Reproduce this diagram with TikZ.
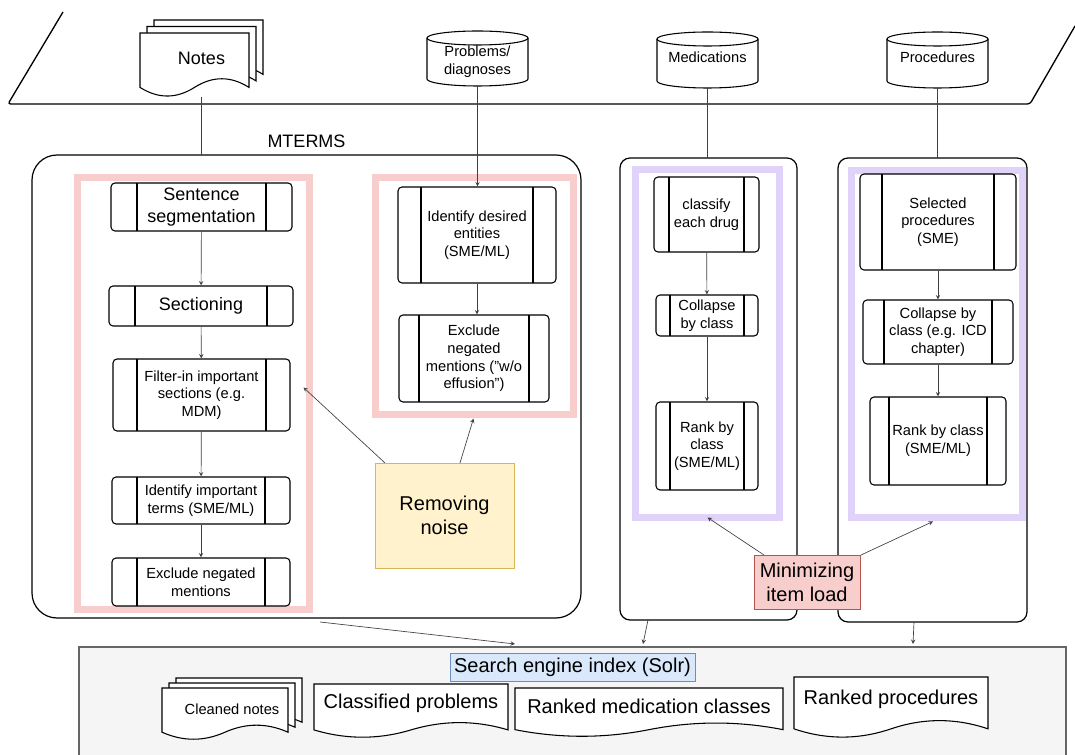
\documentclass[tikz,border=0pt]{standalone}
\usepackage{fontspec}
\setmainfont{Liberation Sans}
\usepackage{xcolor}
\usepackage{tikz}
\usetikzlibrary{shapes.geometric, arrows, positioning, calc}

\definecolor{pinkband}{HTML}{F8CECC}
\definecolor{lilacband}{HTML}{E1D2F9}
\definecolor{noisefill}{HTML}{FFF2CC}
\definecolor{noiseline}{HTML}{D6B656}
\definecolor{loadfill}{HTML}{F8CECC}
\definecolor{loadline}{HTML}{B85450}
\definecolor{indexfill}{HTML}{F5F5F5}
\definecolor{indexline}{HTML}{666666}
\definecolor{solrfill}{HTML}{DAE8FC}
\definecolor{solrline}{HTML}{6C8EBF}

% document outline: left, top, width, height (px)
\newcommand{\docpath}[4]{%
  \filldraw[docline] (#1,#2) -- ({#1+#3},#2) -- ({#1+#3},{#2+0.85*#4})
    .. controls ({#1+0.833*#3},{#2+0.67*#4}) and ({#1+0.667*#3},{#2+0.67*#4}) .. ({#1+0.5*#3},{#2+0.85*#4})
    .. controls ({#1+0.333*#3},{#2+1.03*#4}) and ({#1+0.167*#3},{#2+1.03*#4}) .. (#1,{#2+0.85*#4}) -- cycle;}
% database outline round a node: node, half width
\newcommand{\dbdraw}[2]{%
  \draw[dbline] (#1.north west) -- ([yshift=5.25pt]#1.south west)
    arc[start angle=180, end angle=0, x radius=#2, y radius=7] -- (#1.north east);
  \draw[dbline] (#1.north) ellipse[x radius=#2, y radius=7];}
% lift a label inside its node
\newcommand{\lift}[1]{\raisebox{4.5pt}[\height][\depth]{#1}}

\begin{document}
\begin{tikzpicture}[
        x=0.75pt, y=-0.75pt,
        >=stealth,
        sz/.style 2 args={minimum width=#1*0.75pt, minimum height=#2*0.75pt},
        txs/.style={font=\fontsize{11}{13.2}\selectfont},
        txm/.style={font=\fontsize{13.5}{16}\selectfont},
        txl/.style={font=\fontsize{15}{18}\selectfont},
        proc/.style={rectangle, draw, rounded corners=3pt, line width=0.8pt, inner sep=0pt, align=center, fill=white,
            path picture={
                \draw[line width=0.8pt] ([xshift=#1*0.75pt]path picture bounding box.north west) -- ([xshift=#1*0.75pt]path picture bounding box.south west);
                \draw[line width=0.8pt] ([xshift=-#1*0.75pt]path picture bounding box.north east) -- ([xshift=-#1*0.75pt]path picture bounding box.south east);
            }},
        proc/.default=25,
        panel/.style={rectangle, draw, line width=0.9pt, inner sep=0pt, outer sep=0pt},
        band/.style={rectangle, draw=#1, line width=5.25pt, inner sep=0pt, outer sep=0pt},
        db/.style={inner sep=0pt, outer sep=0pt, align=center, txs},
        dbline/.style={line width=0.8pt},
        docline/.style={draw, fill=white, line width=0.8pt},
        doctext/.style={inner sep=0pt, outer sep=0pt, align=center},
        note/.style={rectangle, inner sep=0pt, outer sep=0pt, align=center, txl},
        arrow/.style={->, line width=0.5pt, draw=black!75},
        link/.style={line width=0.5pt, draw=black!75}
    ]
    \useasboundingbox (0,0) rectangle (1075,755);

    % data source
    \draw[line width=1pt, rounded corners=2pt] (63,12) -- (8,104) -- (1030,104) -- (1075,26);

    \docpath{154}{20}{109}{64}
    \docpath{147}{26.5}{109}{64}
    \docpath{140}{33}{109}{64}
    \node[doctext, txm, sz={123}{77}] (notes) at (201.5,58.5) {Notes};

    \node[db, sz={101}{48}] (probs) at (477.5,62) {Problems/\\diagnoses};
    \dbdraw{probs}{50.5}
    \node[db, sz={101}{49}] (meds) at (707.5,63.5) {\lift{Medications}};
    \dbdraw{meds}{50.5}
    \node[db, sz={101}{49}] (procs) at (937.5,63.5) {\lift{Procedures}};
    \dbdraw{procs}{50.5}

    % bands
    \node[band=pinkband, sz={232}{432}] (lband) at (193.5,393.5) {};
    \node[band=pinkband, sz={198}{237}] (rband) at (474.5,296) {};
    \node[band=lilacband, sz={144}{348}] (medband) at (707.5,343.5) {};
    \node[band=lilacband, sz={171}{347}] (procband) at (937,344) {};

    % panels
    \node[panel, rounded corners=18.75pt, sz={549}{463}] (mterms) at (306.5,386.5) {};
    \node[txm, above=2pt of mterms] (mtlabel) {MTERMS};
    \node[panel, rounded corners=7.5pt, sz={177}{462}] (medpanel) at (708.5,389) {};
    \node[panel, rounded corners=7.5pt, sz={189}{464}] (procpanel) at (932.5,390) {};

    % MTERMS steps
    \node[proc=26, sz={181}{48}, txm] (sentseg) at (201.5,207) {Sentence\\segmentation};
    \node[proc=26, sz={184}{40}, txm] (section) at (201,306) {Sectioning};
    \node[proc=24, sz={177}{72}, txs] (filtin) at (201.5,395) {Filter-in important\\sections (e.g.\\MDM)};
    \node[proc=25, sz={178}{47}, txs] (idterms) at (201,500.5) {Identify important\\terms (SME/ML)};
    \node[proc=25, sz={178}{48}, txs] (exclneg) at (201,582) {Exclude negated\\mentions};
    \node[proc=23, sz={158}{96}, txs] (idwant) at (477,235) {Identify desired\\entities\\(SME/ML)};
    \node[proc=20, sz={150}{87}, txs] (exclwo) at (474,358.5) {Exclude\\negated\\mentions ("w/o\\effusion")};

    % medication steps
    \node[proc=15, sz={105}{75}, txs] (classify) at (706.5,214.5) {classify\\each drug};
    \node[proc=14, sz={102}{41}, txs] (collmed) at (707,315.5) {Collapse\\by class};
    \node[proc=14, sz={102}{88}, txs] (rankmed) at (707,446) {Rank by\\class\\(SME/ML)};

    % procedure steps
    \node[proc=22, sz={156}{96}, txs] (selproc) at (938,222) {Selected\\procedures\\(SME)};
    \node[proc=21, sz={150}{64}, txs] (collproc) at (938,332) {Collapse by\\class (e.g. ICD\\chapter)};
    \node[proc=19, sz={136}{88}, txs] (rankproc) at (938,441) {Rank by class\\(SME/ML)};

    % notes on aims
    \node[note, fill=noisefill, draw=noiseline, sz={139}{105}] (noise) at (444.5,515.5) {Removing\\noise};
    \node[note, fill=loadfill, draw=loadline, sz={106}{54}] (minim) at (807,582) {Minimizing\\item load};

    % index
    \node[fill=indexfill, inner sep=0pt, outer sep=0pt, sz={987}{108}] (index) at (572.5,701) {};
    \draw[indexline, line width=0.8pt] (index.south west) -- (index.north west) -- (index.north east) -- (index.south east);
    \node[fill=solrfill, draw=solrline, inner sep=0pt, sz={245}{28}, txl] (solr) at (572.5,667) {Search engine index (Solr)};

    \docpath{176}{678}{126}{52}
    \docpath{169}{683}{126}{52}
    \docpath{162}{688}{126}{52}
    \node[doctext, txs] (cleaned) at (232,709) {Cleaned notes};
    \docpath{314}{684}{194}{54}
    \node[doctext, txl] (clsprob) at (411,703) {Classified problems};
    \docpath{515}{688}{268}{49}
    \node[doctext, txl] (rankmeddoc) at (649,706) {Ranked medication classes};
    \docpath{794}{677}{194}{61}
    \node[doctext, txl] (rankprocdoc) at (891,699) {Ranked procedures};

    % connectors
    \draw[link] (notes.south) -- (notes.south |- mterms.north);
    \draw[arrow] (probs.south) -- (probs.south |- idwant.north);
    \draw[link] (meds.south) -- (meds.south |- medpanel.north);
    \draw[link] (procs.south) -- (procs.south |- procpanel.north);

    \draw[arrow] (sentseg) -- (section);
    \draw[arrow] (section) -- (filtin);
    \draw[arrow] (filtin) -- (idterms);
    \draw[arrow] (idterms) -- (exclneg);
    \draw[arrow] (idwant.south) -- (idwant.south |- exclwo.north);
    \draw[arrow] (classify) -- (collmed);
    \draw[arrow] (collmed) -- (rankmed);
    \draw[arrow] (selproc) -- (collproc);
    \draw[arrow] (collproc) -- (rankproc);

    \draw[arrow] ([xshift=7.5pt]noise.north west) -- ([shift={(-6,-6)}]lband.east);
    \draw[arrow] ([xshift=11.6pt]noise.north) -- ([shift={(-1,4)}]rband.south);
    \draw[arrow] ([xshift=7.5pt]minim.north west) -- (medband.south);
    \draw[arrow] ([xshift=0.75pt]minim.north east) -- ([shift={(-4,4)}]procband.south);

    \draw[arrow] ([shift={(13.5,4)}]mterms.south) -- ([shift={(-57.5,-3)}]index.north);
    \draw[arrow] ([shift={(-60.5,0)}]medpanel.south) -- ([shift={(70.5,-3)}]index.north);
    \draw[arrow] ([shift={(-18.5,0)}]procpanel.south) -- ([shift={(340.5,-3)}]index.north);

\end{tikzpicture}
\end{document}
